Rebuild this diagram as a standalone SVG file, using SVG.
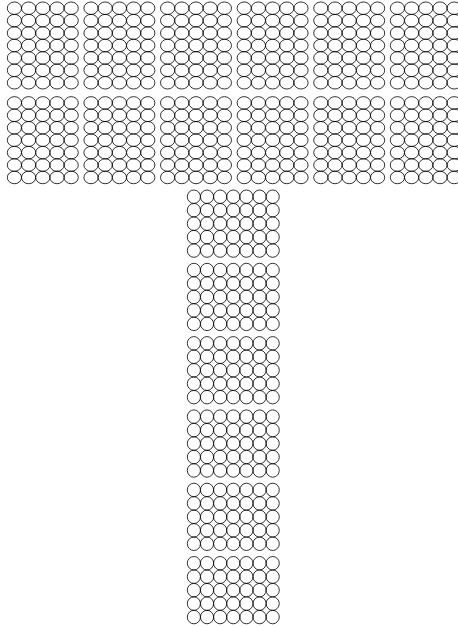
<svg xmlns="http://www.w3.org/2000/svg" xmlns:xlink="http://www.w3.org/1999/xlink" width="458" height="627" viewBox="0 0 458 627">
<style>
ellipse{fill:none;stroke:#000;stroke-width:0.8}
</style>
<rect width="458" height="627" fill="#fff"/>
<defs>
<g id="topBlock">
<g id="trow"><ellipse cx="7.1" cy="6.2" rx="7.1" ry="6.25"/><ellipse cx="21.3" cy="6.2" rx="7.1" ry="6.25"/><ellipse cx="35.5" cy="6.2" rx="7.1" ry="6.25"/><ellipse cx="49.7" cy="6.2" rx="7.1" ry="6.25"/><ellipse cx="63.9" cy="6.2" rx="7.1" ry="6.25"/></g>
<use xlink:href="#trow" y="12.43"/>
<use xlink:href="#trow" y="24.86"/>
<use xlink:href="#trow" y="37.29"/>
<use xlink:href="#trow" y="49.72"/>
<use xlink:href="#trow" y="62.15"/>
<use xlink:href="#trow" y="74.58"/>
</g>
<g id="botBlock">
<g id="brow"><ellipse cx="6.57" cy="6.73" rx="6.57" ry="6.73"/><ellipse cx="19.71" cy="6.73" rx="6.57" ry="6.73"/><ellipse cx="32.85" cy="6.73" rx="6.57" ry="6.73"/><ellipse cx="45.99" cy="6.73" rx="6.57" ry="6.73"/><ellipse cx="59.13" cy="6.73" rx="6.57" ry="6.73"/><ellipse cx="72.27" cy="6.73" rx="6.57" ry="6.73"/><ellipse cx="85.41" cy="6.73" rx="6.57" ry="6.73"/></g>
<use xlink:href="#brow" y="13.46"/>
<use xlink:href="#brow" y="26.92"/>
<use xlink:href="#brow" y="40.38"/>
<use xlink:href="#brow" y="53.84"/>
</g>
</defs>
<g id="top-row-1">
<g id="t1-1"><use xlink:href="#topBlock" x="7.3" y="2"/></g>
<g id="t1-2"><use xlink:href="#topBlock" x="83.9" y="2"/></g>
<g id="t1-3"><use xlink:href="#topBlock" x="160.5" y="2"/></g>
<g id="t1-4"><use xlink:href="#topBlock" x="237.1" y="2"/></g>
<g id="t1-5"><use xlink:href="#topBlock" x="313.7" y="2"/></g>
<g id="t1-6"><use xlink:href="#topBlock" x="390.3" y="2"/></g>
</g>
<g id="top-row-2">
<g id="t2-1"><use xlink:href="#topBlock" x="7.3" y="96.7"/></g>
<g id="t2-2"><use xlink:href="#topBlock" x="83.9" y="96.7"/></g>
<g id="t2-3"><use xlink:href="#topBlock" x="160.5" y="96.7"/></g>
<g id="t2-4"><use xlink:href="#topBlock" x="237.1" y="96.7"/></g>
<g id="t2-5"><use xlink:href="#topBlock" x="313.7" y="96.7"/></g>
<g id="t2-6"><use xlink:href="#topBlock" x="390.3" y="96.7"/></g>
</g>
<g id="column">
<g id="c1"><use xlink:href="#botBlock" x="187.3" y="190"/></g>
<g id="c2"><use xlink:href="#botBlock" x="187.3" y="263.3"/></g>
<g id="c3"><use xlink:href="#botBlock" x="187.3" y="336.6"/></g>
<g id="c4"><use xlink:href="#botBlock" x="187.3" y="409.9"/></g>
<g id="c5"><use xlink:href="#botBlock" x="187.3" y="483.2"/></g>
<g id="c6"><use xlink:href="#botBlock" x="187.3" y="556.5"/></g>
</g>
<g id="connectors"/>
</svg>
